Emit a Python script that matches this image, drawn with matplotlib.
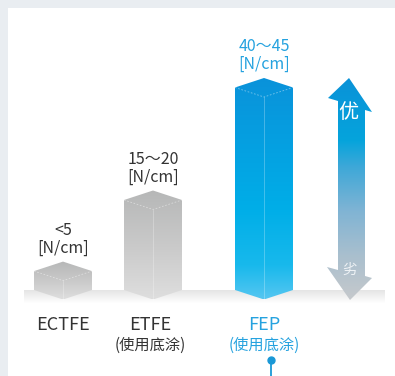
import numpy as np
import matplotlib.pyplot as plt
from matplotlib.patches import Polygon, Rectangle
from matplotlib.colors import LinearSegmentedColormap

plt.rcParams['font.family'] = ['Noto Sans CJK SC', 'DejaVu Sans']

# data
materials = ["ECTFE", "ETFE", "FEP"]
notes = ["", "(使用底涂)", "(使用底涂)"]
peel_strength = [4.2, 20, 45]
range_labels = ["<5", "15～20", "40～45"]
unit_label = "[N/cm]"
highlight = [False, False, True]
scale_labels = ["优", "劣"]

# layout (pixels)
W, H = 395, 376
BASE = 290          # baseline row in px
PX = 4.5            # px per N/cm
centers = [63, 153, 264]
label_x = [63, 150, 264]
BAR_W = 58
DEPTH = 9.5

DARK = "#333333"
BLUE = "#25a2df"

grey_cmap = LinearSegmentedColormap.from_list("g", ["#b6b7b7", "#c9c9c9", "#dedede"])
blue_cmap = LinearSegmentedColormap.from_list(
    "b", [(0, "#0a92da"), (0.6, "#00aee8"), (0.85, "#18b9ec"), (1, "#55c6f1")])
arrow_cmap = LinearSegmentedColormap.from_list(
    "a", [(0, "#0a92d8"), (0.28, "#05a4dc"), (0.4, "#3ea8d8"),
          (0.6, "#80b4d4"), (0.8, "#a9bfce"), (1, "#c6c9cc")])
band_cmap = LinearSegmentedColormap.from_list("s", ["#e4e4e4", "#ffffff"])


def v(ypx):
    return (BASE - ypx) / PX


def gradient(ax, cmap, extent, clip=None, z=2):
    grad = np.linspace(0, 1, 256).reshape(-1, 1)
    im = ax.imshow(grad, cmap=cmap, extent=extent, origin="upper",
                   aspect="auto", interpolation="bilinear", zorder=z)
    if clip is not None:
        im.set_clip_path(clip)
    return im


def plot_main():
    fig = plt.figure(figsize=(W / 100, H / 100), dpi=100)
    fig.patch.set_facecolor("#e9edf1")
    ax = fig.add_axes([0, 0, 1, 1])
    ax.set_axis_off()
    ax.patch.set_alpha(0)

    # white panel
    ax.add_patch(Rectangle((8, v(H)), W, v(8) - v(H), facecolor="white",
                           edgecolor="none", zorder=0))

    # floor shadow band
    gradient(ax, band_cmap, (24, 385, v(303), v(290)), z=1)

    d = DEPTH / PX
    for i, h in enumerate(peel_strength):
        c = centers[i]
        l, r = c - BAR_W / 2, c + BAR_W / 2
        hexa = Polygon([(l, h), (c, h + d), (r, h), (r, 0), (c, -d), (l, 0)],
                       closed=True, facecolor="none", edgecolor="none")
        ax.add_patch(hexa)
        cmap = blue_cmap if highlight[i] else grey_cmap
        gradient(ax, cmap, (l, r, -d, h + d), clip=hexa, z=2)
        ax.plot([l, c, r], [h, h - d, h], ls=(0, (2, 2)), lw=0.6,
                color="white", alpha=0.45, zorder=3)
        ax.plot([c, c], [h - d, -d], lw=0.6, color="white", alpha=0.3, zorder=3)

        col = BLUE if highlight[i] else DARK
        top = h + d
        ax.text(c, top + 9 / PX, unit_label, ha="center", va="baseline",
                fontsize=11.5, color=col)
        ax.text(c, top + 27 / PX, range_labels[i], ha="center", va="baseline",
                fontsize=11.5, color=col)
        ax.text(label_x[i], v(330), materials[i], ha="center", va="baseline",
                fontsize=13, color=col)
        if notes[i]:
            ax.text(label_x[i], v(345), notes[i], ha="center", va="center",
                    fontsize=11, color=col)

    # pointer under FEP
    ax.plot([271, 271], [v(360), v(376)], color="#1a98d6", lw=1.3, zorder=4)
    ax.plot([271], [v(360)], "o", color="#1a98d6", markersize=5, zorder=5)

    # double arrow (better / worse)
    pts = [(349, 78), (372, 112), (365, 110), (365, 276), (372, 278), (350, 300),
           (327, 267), (338, 270), (338, 101), (328, 98)]
    arrow = Polygon([(x, v(y)) for x, y in pts], closed=True,
                    facecolor="none", edgecolor="none")
    ax.add_patch(arrow)
    gradient(ax, arrow_cmap, (325, 375, v(300), v(78)), clip=arrow, z=2)
    ax.text(348, v(112), scale_labels[0], ha="center", va="center",
            fontsize=14.5, color="white", zorder=5)
    ax.text(349.5, v(270), scale_labels[1], ha="center", va="center",
            fontsize=10.5, color="#eef2f5", zorder=5)

    ax.set_xlim(0, W)
    ax.set_ylim(v(H), v(0))
    fig.savefig("out.png", dpi=100, facecolor=fig.get_facecolor())


if __name__ == '__main__':
    plot_main()
